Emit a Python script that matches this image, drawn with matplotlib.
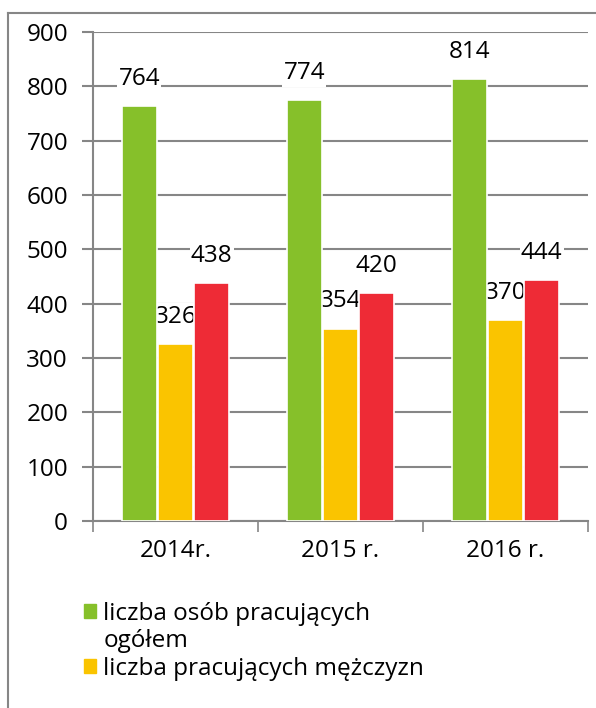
import numpy as np
import matplotlib.pyplot as plt
from matplotlib.patches import Rectangle
from matplotlib.lines import Line2D

plt.rcParams['font.family'] = ['Open Sans', 'DejaVu Sans']
plt.rcParams['font.size'] = 17.5

# dane
years = ['2014r.', '2015 r.', '2016 r.']
ogolem = [764, 774, 814]
mezczyzni = [326, 354, 370]
kobiety = [438, 420, 444]
legend_lines = ['liczba osób pracujących', 'ogółem', 'liczba pracujących mężczyzn']

colors = ['#86C02A', '#FAC400', '#EE2B36']
grid_col = '#868686'

fig = plt.figure(figsize=(5.96, 7.08), dpi=100)
ax = fig.add_axes([93 / 596, 1 - 521 / 708, 495 / 596, 489 / 708])

x = np.arange(len(years)) + 0.5
w = 0.21
offsets = [-0.22, 0.0, 0.22]
for vals, off, c in zip([ogolem, mezczyzni, kobiety], offsets, colors):
    ax.bar(x + off, vals, width=w, color=c, edgecolor='white', linewidth=1.2, zorder=3)
    for xi, v in zip(x + off, vals):
        # etykiety pod słupkami (zorder), biała ramka przerywa siatkę
        ax.text(xi, v + 50, str(v), ha='center', va='center', fontsize=17.5, zorder=2.5,
                bbox=dict(facecolor='white', edgecolor='none', pad=1))

ax.set_xlim(0, 3)
ax.set_ylim(0, 900)
ax.set_yticks(range(0, 901, 100))
ax.yaxis.grid(True, color=grid_col, linewidth=1.5, zorder=0)
ax.set_axisbelow(True)

ax.set_xticks([0, 1, 2, 3])
ax.set_xticklabels([])
ax.set_xticks(x, minor=True)
ax.set_xticklabels(years, minor=True)
ax.tick_params(axis='x', which='major', length=8, width=1.2, color=grid_col)
ax.tick_params(axis='x', which='minor', length=0, pad=13)
ax.tick_params(axis='y', length=8, width=1.5, color=grid_col, pad=10)

for s in ['top', 'right']:
    ax.spines[s].set_visible(False)
for s in ['left', 'bottom']:
    ax.spines[s].set_color(grid_col)
    ax.spines[s].set_linewidth(1.5)

# legenda: druga linia pierwszej pozycji bez znacznika
handles = [Rectangle((0, 0), 1, 1, color=colors[0]),
           Rectangle((0, 0), 1, 1, color='none'),
           Rectangle((0, 0), 1, 1, color=colors[1])]
fig.legend(handles, legend_lines, loc='upper left', bbox_to_anchor=(74 / 596, 1 - 592 / 708),
           frameon=False, fontsize=17.5, handlelength=0.5, handleheight=0.5,
           handletextpad=0.3, labelspacing=0.15, borderaxespad=0)

# ramka
fig.add_artist(Line2D([8 / 596, 8 / 596], [0, 1 - 13 / 708], color=grid_col, linewidth=1.5))
fig.add_artist(Line2D([8 / 596, 1], [1 - 13 / 708, 1 - 13 / 708], color=grid_col, linewidth=1.5))

fig.savefig('out.png', dpi=100)
